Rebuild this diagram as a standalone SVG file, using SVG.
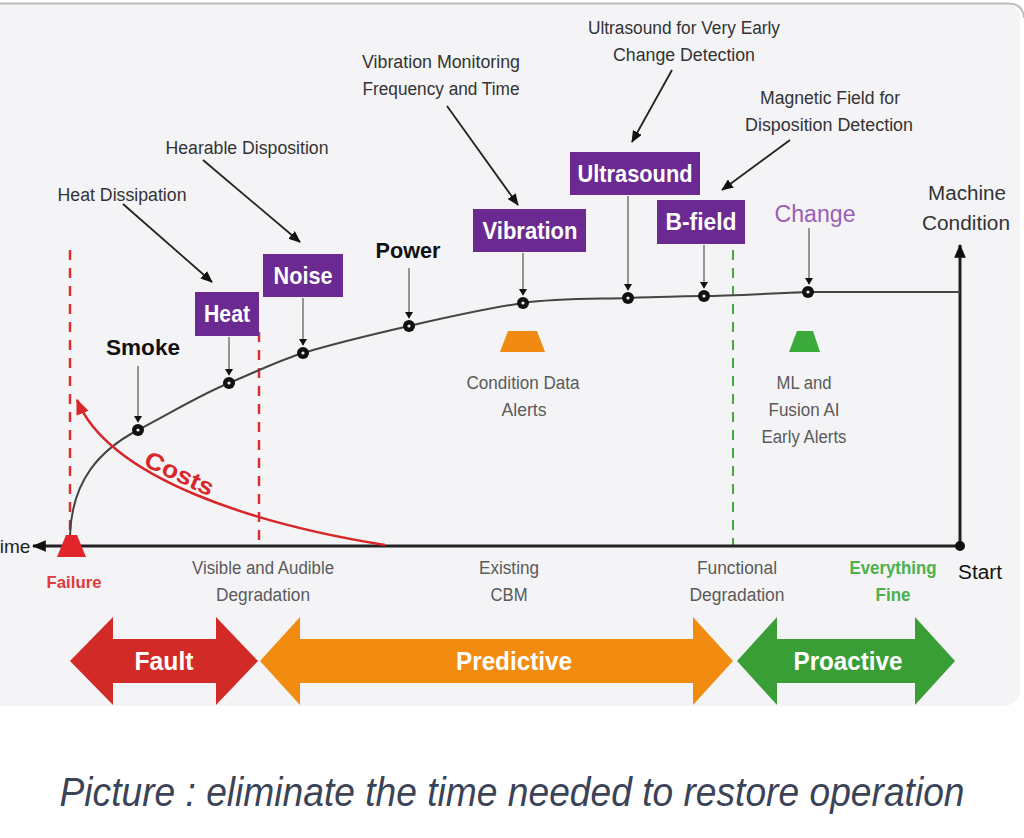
<svg xmlns="http://www.w3.org/2000/svg" width="1024" height="838" viewBox="0 0 1024 838">
<defs>
<marker id="ah" viewBox="0 0 12 10" refX="11" refY="5" markerWidth="12" markerHeight="10" markerUnits="userSpaceOnUse" orient="auto">
<path d="M0,0 L12,5 L0,10 z" fill="#111"/>
</marker>
<marker id="ahs" viewBox="0 0 10 12" refX="9" refY="6" markerWidth="12" markerHeight="8" markerUnits="userSpaceOnUse" orient="auto">
<path d="M0,0 L10,6 L0,12 z" fill="#111"/>
</marker>
<marker id="ahax" viewBox="0 0 12 10" refX="11" refY="5" markerWidth="14" markerHeight="12" markerUnits="userSpaceOnUse" orient="auto">
<path d="M0,0 L12,5 L0,10 z" fill="#111"/>
</marker>
<marker id="ahred" viewBox="0 0 12 10" refX="11" refY="5" markerWidth="16" markerHeight="13" markerUnits="userSpaceOnUse" orient="auto">
<path d="M0,0 L12,5 L0,10 z" fill="#d8262a"/>
</marker>
<style>
text{font-family:"Liberation Sans",Arial,sans-serif;}
.call{font-size:18px;fill:#333;text-anchor:middle;}
.gray{font-size:18px;fill:#5a5a5a;text-anchor:middle;}
.box{fill:#6a2a91;}
.boxt{font-size:23px;fill:#fff;text-anchor:middle;font-weight:bold;}
.big{font-size:22px;fill:#111;text-anchor:middle;font-weight:bold;}
.carrow{stroke:#222;stroke-width:1.8;fill:none;marker-end:url(#ah);}
.darrow{stroke:#555;stroke-width:1.2;fill:none;marker-end:url(#ahs);}
.dot{fill:#111;}
.dotc{fill:#eee;}
.band{font-size:26px;fill:#fff;text-anchor:middle;font-weight:bold;}
</style>
</defs>

<rect x="-20" y="3" width="1040" height="703" rx="16" fill="#f4f4f6"/>
<path d="M0,3.5 H1008 Q1023,3.5 1024,18" fill="none" stroke="#bdbdbd" stroke-width="2"/>

<g id="guides">
<line x1="70" y1="250" x2="70" y2="535" stroke="#d9302f" stroke-width="2.5" stroke-dasharray="10 8"/>
<line x1="259" y1="332" x2="259" y2="546" stroke="#d9302f" stroke-width="2.5" stroke-dasharray="10 8"/>
<line x1="733" y1="250" x2="733" y2="546" stroke="#45a845" stroke-width="2" stroke-dasharray="10 8"/>
</g>

<g id="axes">
<line x1="960" y1="546" x2="33" y2="546" stroke="#222" stroke-width="3" marker-end="url(#ahax)"/>
<line x1="960" y1="546" x2="960" y2="245" stroke="#222" stroke-width="3" marker-end="url(#ahax)"/>
<circle cx="960" cy="546" r="5" fill="#111"/>
<text x="15" y="553" font-size="19" fill="#222" text-anchor="middle">ime</text>
<text x="980" y="579" font-size="20" fill="#111" text-anchor="middle" textLength="44" lengthAdjust="spacingAndGlyphs">Start</text>
<text x="967" y="200" font-size="20" fill="#333" text-anchor="middle" textLength="78" lengthAdjust="spacingAndGlyphs">Machine</text>
<text x="966" y="230" font-size="20" fill="#333" text-anchor="middle" textLength="88" lengthAdjust="spacingAndGlyphs">Condition</text>
</g>

<g id="curve">
<path d="M70,535 C72,480 100,450 138,430 S200,395 229,383 S280,360 303,353 S370,335 409,326 S490,308 523,303 S600,299 628,298 S680,296 704,296 S780,293 808,292 L960,292" fill="none" stroke="#444" stroke-width="2"/>
</g>

<g id="costs">
<path d="M385,545 C260,525 110,480 77,400" fill="none" stroke="#d8262a" stroke-width="2.5" marker-end="url(#ahred)"/>
<text x="176" y="481" font-size="24" font-weight="bold" fill="#d8262a" text-anchor="middle" transform="rotate(25 176 481)" textLength="74" lengthAdjust="spacingAndGlyphs">Costs</text>
</g>

<g id="failure">
<polygon points="66,535 77,535 86,557 57,557" fill="#e0262b"/>
<text x="74" y="588" font-size="17" font-weight="bold" fill="#e0393e" text-anchor="middle" textLength="55" lengthAdjust="spacingAndGlyphs">Failure</text>
</g>

<g id="connectors">
<line class="carrow" x1="123" y1="204" x2="212" y2="282"/>
<line class="carrow" x1="203" y1="160" x2="300" y2="242"/>
<line class="carrow" x1="447" y1="106" x2="518" y2="205"/>
<line class="carrow" x1="672" y1="70" x2="632" y2="142"/>
<line class="carrow" x1="790" y1="140" x2="722" y2="190"/>
<line class="darrow" x1="138" y1="366" x2="138" y2="422"/>
<line class="darrow" x1="229" y1="337" x2="229" y2="375"/>
<line class="darrow" x1="303" y1="298" x2="303" y2="345"/>
<line class="darrow" x1="409" y1="268" x2="409" y2="318"/>
<line class="darrow" x1="523" y1="253" x2="523" y2="295"/>
<line class="darrow" x1="628" y1="196" x2="628" y2="290"/>
<line class="darrow" x1="704" y1="245" x2="704" y2="288"/>
<line class="darrow" x1="809" y1="228" x2="809" y2="284"/>
</g>

<g id="dots">
<circle class="dot" cx="138" cy="430" r="6"/><circle class="dotc" cx="138" cy="430" r="1.6"/>
<circle class="dot" cx="229" cy="383" r="6"/><circle class="dotc" cx="229" cy="383" r="1.6"/>
<circle class="dot" cx="303" cy="353" r="6"/><circle class="dotc" cx="303" cy="353" r="1.6"/>
<circle class="dot" cx="409" cy="326" r="6"/><circle class="dotc" cx="409" cy="326" r="1.6"/>
<circle class="dot" cx="523" cy="303" r="6"/><circle class="dotc" cx="523" cy="303" r="1.6"/>
<circle class="dot" cx="628" cy="298" r="6"/><circle class="dotc" cx="628" cy="298" r="1.6"/>
<circle class="dot" cx="704" cy="296" r="6"/><circle class="dotc" cx="704" cy="296" r="1.6"/>
<circle class="dot" cx="808" cy="292" r="6"/><circle class="dotc" cx="808" cy="292" r="1.6"/>
</g>

<g id="heat-dissipation"><text class="call" x="122" y="201" textLength="129" lengthAdjust="spacingAndGlyphs">Heat Dissipation</text></g>
<g id="hearable-disposition"><text class="call" x="247" y="154" textLength="163" lengthAdjust="spacingAndGlyphs">Hearable Disposition</text></g>
<g id="vibration-monitoring">
<text class="call" x="441" y="68" textLength="158" lengthAdjust="spacingAndGlyphs">Vibration Monitoring</text>
<text class="call" x="441" y="95" textLength="157" lengthAdjust="spacingAndGlyphs">Frequency and Time</text>
</g>
<g id="ultrasound-early">
<text class="call" x="684" y="34" textLength="192" lengthAdjust="spacingAndGlyphs">Ultrasound for Very Early</text>
<text class="call" x="684" y="61" textLength="142" lengthAdjust="spacingAndGlyphs">Change Detection</text>
</g>
<g id="magnetic-field">
<text class="call" x="830" y="104" textLength="140" lengthAdjust="spacingAndGlyphs">Magnetic Field for</text>
<text class="call" x="829" y="131" textLength="168" lengthAdjust="spacingAndGlyphs">Disposition Detection</text>
</g>

<g id="smoke"><text class="big" x="143" y="355" textLength="74" lengthAdjust="spacingAndGlyphs">Smoke</text></g>
<g id="heat"><rect class="box" x="195" y="292" width="64" height="44"/><text class="boxt" x="227" y="322" textLength="46" lengthAdjust="spacingAndGlyphs">Heat</text></g>
<g id="noise"><rect class="box" x="263" y="254" width="80" height="43"/><text class="boxt" x="303" y="284" textLength="59" lengthAdjust="spacingAndGlyphs">Noise</text></g>
<g id="power"><text class="big" x="408" y="258" textLength="65" lengthAdjust="spacingAndGlyphs">Power</text></g>
<g id="vibration"><rect class="box" x="473" y="209" width="113" height="43"/><text class="boxt" x="530" y="239" textLength="95" lengthAdjust="spacingAndGlyphs">Vibration</text></g>
<g id="ultrasound"><rect class="box" x="570" y="152" width="130" height="43"/><text class="boxt" x="635" y="182" textLength="115" lengthAdjust="spacingAndGlyphs">Ultrasound</text></g>
<g id="b-field"><rect class="box" x="657" y="200" width="88" height="44"/><text class="boxt" x="701" y="230" textLength="71" lengthAdjust="spacingAndGlyphs">B-field</text></g>
<g id="change"><text x="815" y="222" font-size="23" fill="#9c5db5" text-anchor="middle" textLength="81" lengthAdjust="spacingAndGlyphs">Change</text></g>

<g id="condition-alerts">
<polygon points="508,331 537,331 545,352 500,352" fill="#f08a12"/>
<text class="gray" x="523" y="389" textLength="113" lengthAdjust="spacingAndGlyphs">Condition Data</text>
<text class="gray" x="524" y="416" textLength="45" lengthAdjust="spacingAndGlyphs">Alerts</text>
</g>
<g id="ml-alerts">
<polygon points="797,331 813,331 820,352 789,352" fill="#3aaa3a"/>
<text class="gray" x="804" y="389" textLength="55" lengthAdjust="spacingAndGlyphs">ML and</text>
<text class="gray" x="804" y="416" textLength="71" lengthAdjust="spacingAndGlyphs">Fusion AI</text>
<text class="gray" x="804" y="443" textLength="85" lengthAdjust="spacingAndGlyphs">Early Alerts</text>
</g>

<g id="stage-labels">
<text class="gray" x="263" y="574" textLength="142" lengthAdjust="spacingAndGlyphs">Visible and Audible</text>
<text class="gray" x="263" y="601" textLength="94" lengthAdjust="spacingAndGlyphs">Degradation</text>
<text class="gray" x="509" y="574" textLength="60" lengthAdjust="spacingAndGlyphs">Existing</text>
<text class="gray" x="509" y="601" textLength="37" lengthAdjust="spacingAndGlyphs">CBM</text>
<text class="gray" x="737" y="574" textLength="80" lengthAdjust="spacingAndGlyphs">Functional</text>
<text class="gray" x="737" y="601" textLength="95" lengthAdjust="spacingAndGlyphs">Degradation</text>
<text x="893" y="574" font-size="18" fill="#4cb04c" text-anchor="middle" font-weight="bold" textLength="87" lengthAdjust="spacingAndGlyphs">Everything</text>
<text x="893" y="601" font-size="18" fill="#4cb04c" text-anchor="middle" font-weight="bold" textLength="35" lengthAdjust="spacingAndGlyphs">Fine</text>
</g>

<g id="fault">
<polygon points="70,661 113,617 113,639 216,639 216,617 258,661 216,705 216,683 113,683 113,705" fill="#d22a27"/>
<text class="band" x="164" y="670" textLength="59" lengthAdjust="spacingAndGlyphs">Fault</text>
</g>
<g id="predictive">
<polygon points="260,661 300,617 300,639 693,639 693,617 733,661 693,705 693,683 300,683 300,705" fill="#f28c10"/>
<text class="band" x="514" y="670" textLength="116" lengthAdjust="spacingAndGlyphs">Predictive</text>
</g>
<g id="proactive">
<polygon points="737,661 777,617 777,639 915,639 915,617 955,661 915,705 915,683 777,683 777,705" fill="#3a9e36"/>
<text class="band" x="848" y="670" textLength="109" lengthAdjust="spacingAndGlyphs">Proactive</text>
</g>

<g id="caption">
<text x="512" y="700.9" font-size="36" font-style="italic" fill="#3b4357" text-anchor="middle" transform="scale(1,1.15)" textLength="905" lengthAdjust="spacingAndGlyphs">Picture : eliminate the time needed to restore operation</text>
</g>
</svg>
